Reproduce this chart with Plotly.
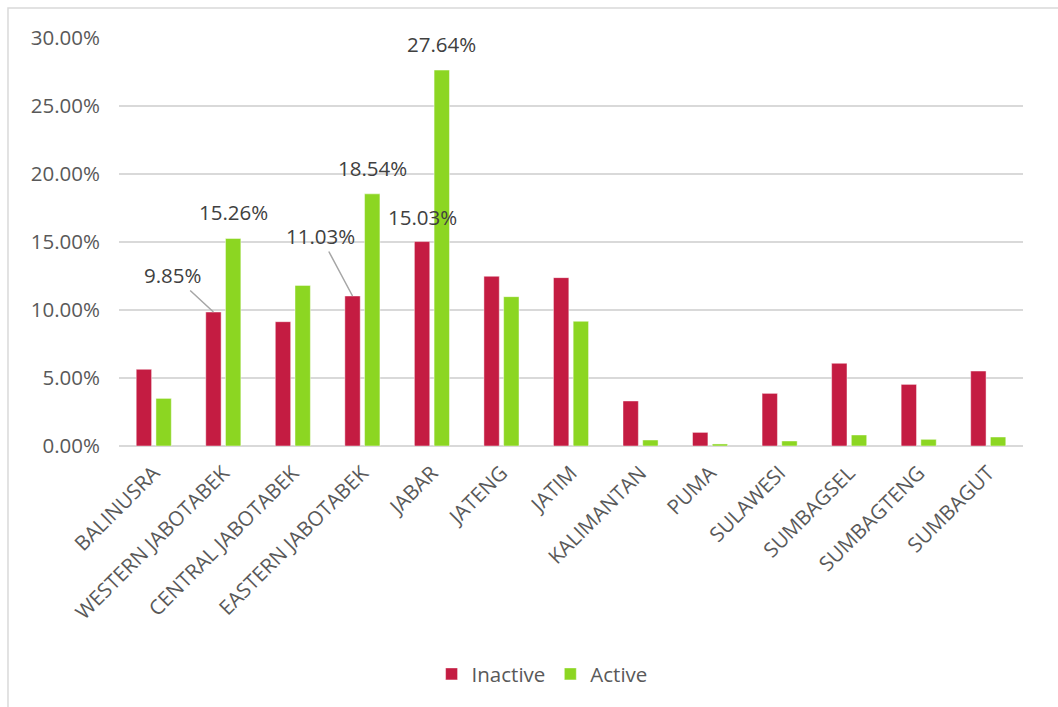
import plotly.graph_objects as go

categories = ["BALINUSRA", "WESTERN JABOTABEK", "CENTRAL JABOTABEK", "EASTERN JABOTABEK",
              "JABAR", "JATENG", "JATIM", "KALIMANTAN", "PUMA", "SULAWESI",
              "SUMBAGSEL", "SUMBAGTENG", "SUMBAGUT"]
inactive = [5.64, 9.85, 9.14, 11.03, 15.03, 12.48, 12.38, 3.31, 1.00, 3.87, 6.08, 4.53, 5.51]
active = [3.50, 15.26, 11.81, 18.54, 27.64, 10.98, 9.17, 0.44, 0.15, 0.37, 0.81, 0.49, 0.66]

# data labels shown: category index -> leader offsets (None = plain label above bar)
inactive_labels = {1: (-40, -37), 3: (-32, -60), 4: None}
active_labels = [1, 3, 4]

RED = "#C41C42"
GREEN = "#8CD622"
FONT = "Open Sans"
FS = 20.5

fig = go.Figure()
fig.add_trace(go.Bar(x=list(range(len(categories))), y=[v / 100 for v in inactive], name="Inactive",
                     marker=dict(color=RED, line=dict(color="rgba(255,255,255,0.45)", width=1))))
fig.add_trace(go.Bar(x=list(range(len(categories))), y=[v / 100 for v in active], name="Active",
                     marker=dict(color=GREEN, line=dict(color="rgba(255,255,255,0.45)", width=1))))

bargap = 0.433
bargroupgap = 0.22
offset = (1 - bargap) / 4

annotations = []
for i, off in inactive_labels.items():
    txt = f"{inactive[i]:.2f}%"
    if off is None:
        annotations.append(dict(x=i - offset, y=inactive[i] / 100, text=txt, showarrow=False,
                                xanchor="center", yanchor="middle", yshift=25,
                                font=dict(family=FONT, size=FS, color="#404040")))
    else:
        annotations.append(dict(x=i - offset, y=inactive[i] / 100, text=txt, showarrow=True,
                                arrowhead=0, arrowwidth=1.5, arrowcolor="#A6A6A6",
                                ax=off[0], ay=off[1], standoff=0,
                                font=dict(family=FONT, size=FS, color="#404040")))
for i in active_labels:
    annotations.append(dict(x=i + offset, y=active[i] / 100, text=f"{active[i]:.2f}%", showarrow=False,
                            xanchor="center", yanchor="middle", yshift=26,
                            font=dict(family=FONT, size=FS, color="#404040")))

fig.update_layout(
    width=1058, height=707,
    margin=dict(l=119, r=35, t=38, b=261),
    paper_bgcolor="white", plot_bgcolor="white",
    barmode="group", bargap=bargap, bargroupgap=bargroupgap,
    font=dict(family=FONT, size=FS, color="#595959"),
    showlegend=True,
    legend=dict(orientation="h", x=0.468, xanchor="center", y=-0.559, yanchor="middle",
                itemwidth=30, tracegroupgap=0,
                font=dict(family=FONT, size=FS, color="#595959"), itemclick=False),
    annotations=annotations,
    shapes=[dict(type="rect", xref="paper", yref="paper", x0=-0.1228, x1=1.2, y0=-1.0, y1=1.0735,
                 line=dict(color="#D9D9D9", width=1.5), fillcolor="rgba(0,0,0,0)", layer="below")],
)
fig.update_xaxes(tickmode="array", tickvals=list(range(len(categories))), ticktext=categories,
                 tickangle=-45, range=[-0.5, len(categories) - 0.5],
                 showgrid=False, zeroline=False, showline=False, ticks="", ticklabelstandoff=10,
                 tickfont=dict(family=FONT, size=FS, color="#595959"))
fig.update_yaxes(range=[0, 0.30], dtick=0.05, tickformat=".2%", showgrid=True,
                 gridcolor="#D9D9D9", gridwidth=1.5, zeroline=True, zerolinecolor="#D9D9D9",
                 zerolinewidth=1.5, showline=False, ticks="", ticklabelstandoff=18,
                 tickfont=dict(family=FONT, size=FS, color="#595959"))

fig.write_html("out.html")
